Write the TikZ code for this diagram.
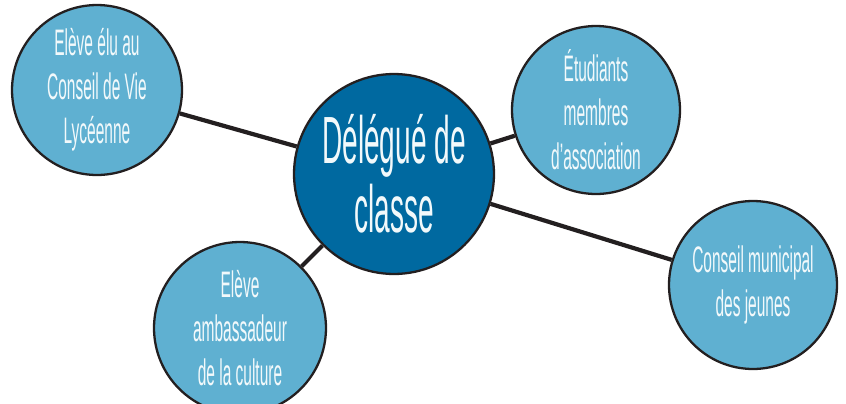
\documentclass[tikz,border=0pt]{standalone}
\usepackage{fontspec}
\newfontfamily\etroite[FakeStretch=0.42]{Liberation Sans}
\definecolor{bleuclair}{HTML}{5FB0D1}
\definecolor{bleufonce}{HTML}{0069A0}
\definecolor{trait}{HTML}{231F20}
\begin{document}
\begin{tikzpicture}[x=0.02cm,y=-0.02cm,
    rond/.style={circle,draw=trait,line width=1.3pt,fill=bleuclair,inner sep=0pt,
        minimum size=3.4cm,align=center,text=white!92!bleuclair,
        font=\etroite\fontsize{21}{25}\selectfont},
    centre/.style={rond,fill=bleufonce,minimum size=4cm,
        font=\etroite\fontsize{38}{39}\selectfont},
    lien/.style={draw=trait,line width=2.4pt}]
        \clip (0,0) rectangle (846,403);
        \node[rond] (cvl) at (97, 90) {Elève élu au\\Conseil de Vie\\Lycéenne};
        \node[centre] (delegue) at (394, 174) {Délégué de\\classe};
        \node[rond,minimum size=3.36cm] (asso) at (596, 110) {Étudiants\\membres\\d’association};
        \node[rond,minimum size=3.44cm] (culture) at (240, 328) {Elève\\ambassadeur\\de la culture};
        \node[rond,minimum size=3.36cm] (cmj) at (753, 285) {Conseil municipal\\des jeunes};
        \draw[lien] (cvl) to (delegue);
        \draw[lien] (delegue) to (asso);
        \draw[lien] (delegue) to (culture);
        \draw[lien] (delegue) to (cmj);
    \end{tikzpicture}
\end{document}
